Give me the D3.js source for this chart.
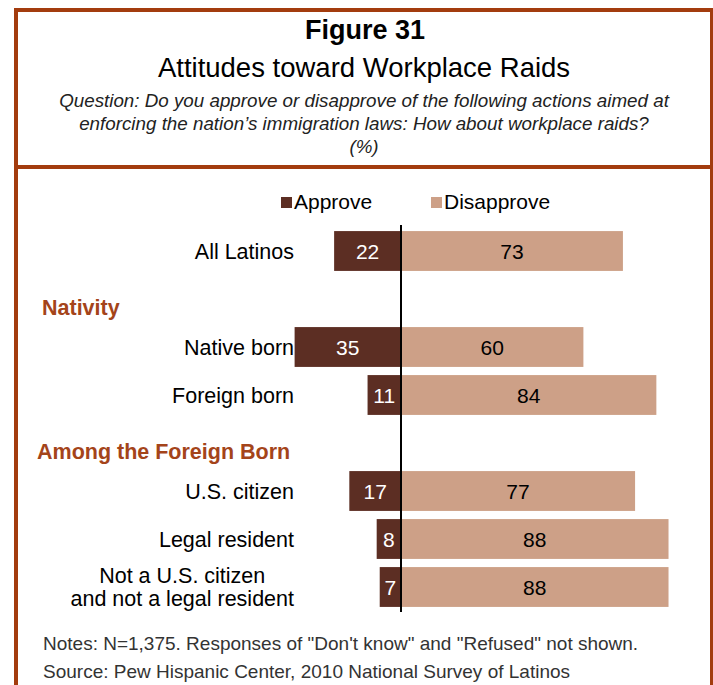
<!DOCTYPE html>
<html>
<head>
<meta charset="utf-8">
<script src="https://cdn.jsdelivr.net/npm/d3@7"></script>
<style>
  html, body { margin: 0; padding: 0; background: #fff; }
  svg { display: block; font-family: "Liberation Sans", Arial, sans-serif; }
</style>
</head>
<body>
<svg id="chart" width="713" height="685"></svg>
<script>
// Rows of the chart, top to bottom; headers are group titles without bars
const rows = ["All Latinos", "Nativity", "Native born", "Foreign born",
              "Among the Foreign Born", "U.S. citizen", "Legal resident",
              "Not a U.S. citizen|and not a legal resident"];
const headers = ["Nativity", "Among the Foreign Born"];
const categories = ["All Latinos", "Native born", "Foreign born", "U.S. citizen",
                    "Legal resident", "Not a U.S. citizen|and not a legal resident"];
const approve    = [22, 35, 11, 17, 8, 7];
const disapprove = [73, 60, 84, 77, 88, 88];
const seriesNames = ["Approve", "Disapprove"];
const notes = [
  "Notes: N=1,375. Responses of \"Don't know\" and \"Refused\" not shown.",
  "Source: Pew Hispanic Center, 2010 National Survey of Latinos"
];

const colors = { approve: "#5c2e23", disapprove: "#cda087", frame: "#a33c0e", header: "#a4441a" };

const svg = d3.select("#chart");
svg.append("rect").attr("width", 713).attr("height", 685).attr("fill", "#fff");

// Frame around the figure
const frame = svg.append("g").attr("fill", colors.frame);
frame.append("rect").attr("x", 14).attr("y", 8).attr("width", 699).attr("height", 4);
frame.append("rect").attr("x", 14).attr("y", 8).attr("width", 4).attr("height", 677);
frame.append("rect").attr("x", 710).attr("y", 8).attr("width", 3).attr("height", 677);
frame.append("rect").attr("x", 14).attr("y", 165).attr("width", 699).attr("height", 4);

// Titles
svg.append("text").attr("x", 365).attr("y", 39).attr("text-anchor", "middle")
  .attr("font-size", 27).attr("font-weight", "bold").attr("fill", "#000").text("Figure 31");
svg.append("text").attr("x", 364).attr("y", 77).attr("text-anchor", "middle")
  .attr("font-size", 27.5).attr("fill", "#000").text("Attitudes toward Workplace Raids");
const question = [
  "Question: Do you approve or disapprove of the following actions aimed at",
  "enforcing the nation\u2019s immigration laws: How about workplace raids?",
  "(%)"
];
svg.append("g").selectAll("text").data(question).join("text")
  .attr("x", 364).attr("y", (d, i) => 107 + i * 23)
  .attr("text-anchor", "middle").attr("font-size", 18.8).attr("font-style", "italic")
  .attr("fill", "#222").text(d => d);

// Scales
const x = d3.scaleLinear().domain([-40, 100]).range([401 - 40 * 3.04, 401 + 100 * 3.04]);
const y = d3.scaleBand().domain(rows).range([227, 611]).paddingInner(0.17).paddingOuter(0.085);

// Legend
const legend = svg.append("g");
const legendX = [281, 431];
seriesNames.forEach((name, i) => {
  legend.append("rect").attr("x", legendX[i]).attr("y", 197).attr("width", 11).attr("height", 11)
    .attr("fill", i === 0 ? colors.approve : colors.disapprove);
  legend.append("text").attr("x", legendX[i] + 13).attr("y", 209)
    .attr("font-size", 21).attr("fill", "#000").text(name);
});

const data = categories.map((c, i) => ({ c, a: approve[i], d: disapprove[i] }));

// Bars
const bars = svg.append("g");
bars.selectAll("rect.approve").data(data).join("rect").attr("class", "approve")
  .attr("x", d => x(-d.a)).attr("width", d => x(0) - x(-d.a))
  .attr("y", d => y(d.c)).attr("height", y.bandwidth()).attr("fill", colors.approve);
bars.selectAll("rect.disapprove").data(data).join("rect").attr("class", "disapprove")
  .attr("x", x(0)).attr("width", d => x(d.d) - x(0))
  .attr("y", d => y(d.c)).attr("height", y.bandwidth()).attr("fill", colors.disapprove);

// Value labels
const vals = svg.append("g").attr("font-size", 21).attr("text-anchor", "middle");
vals.selectAll("text.a").data(data).join("text").attr("class", "a")
  .attr("x", d => (x(-d.a) + x(0)) / 2).attr("y", d => y(d.c) + y.bandwidth() / 2 + 7.5)
  .attr("fill", "#fff").text(d => d.a);
vals.selectAll("text.d").data(data).join("text").attr("class", "d")
  .attr("x", d => (x(0) + x(d.d)) / 2).attr("y", d => y(d.c) + y.bandwidth() / 2 + 7.5)
  .attr("fill", "#000").text(d => d.d);

// Zero line
svg.append("line").attr("x1", x(0)).attr("x2", x(0)).attr("y1", 225).attr("y2", 612)
  .attr("stroke", "#000").attr("stroke-width", 2);

// Category labels, right-aligned; multi-line labels centred as a block
const labelRight = 294;
const cats = svg.append("g").attr("font-size", 21.5).attr("fill", "#000");
data.forEach(d => {
  const lines = d.c.split("|");
  const cy = y(d.c) + y.bandwidth() / 2;
  if (lines.length === 1) {
    cats.append("text").attr("x", labelRight).attr("y", cy + 7.5).attr("text-anchor", "end").text(lines[0]);
  } else {
    const t = cats.append("text").attr("text-anchor", "middle");
    lines.forEach((ln, j) => t.append("tspan").attr("y", cy - 4 + j * 23).text(ln));
    const widest = d3.max(t.selectAll("tspan").nodes(), n => n.getComputedTextLength());
    t.selectAll("tspan").attr("x", labelRight - widest / 2);
  }
});

// Group headers
const headerX = { "Nativity": 42, "Among the Foreign Born": 37 };
svg.append("g").selectAll("text").data(headers).join("text")
  .attr("x", d => headerX[d]).attr("y", d => y(d) + y.bandwidth() / 2 + 16)
  .attr("font-size", 21.5).attr("font-weight", "bold").attr("fill", colors.header).text(d => d);

// Notes
svg.append("g").selectAll("text").data(notes).join("text")
  .attr("x", 43).attr("y", (d, i) => 650 + i * 28)
  .attr("font-size", 19).attr("fill", "#333").text(d => d);
</script>
</body>
</html>
